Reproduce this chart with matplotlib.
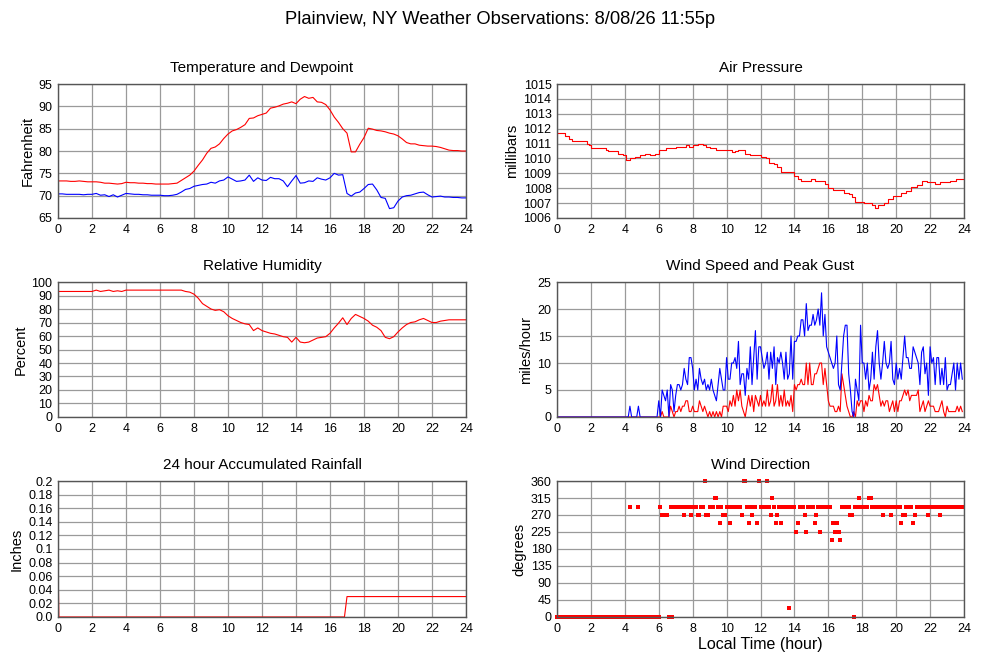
import numpy as np
import matplotlib
matplotlib.use("Agg")
import matplotlib.pyplot as plt

plt.rcParams['font.family'] = ['Liberation Sans', 'DejaVu Sans']

# temperature / dewpoint / humidity, one row per hour, 15 min steps (ends at 24:00)
temp_f = [73.3, 73.3, 73.3, 73.2,
          73.2, 73.3, 73.2, 73.1,
          73.1, 73.1, 73.0, 72.8,
          72.8, 72.7, 72.6, 72.7,
          73.0, 72.9, 72.9, 72.8,
          72.8, 72.7, 72.7, 72.6,
          72.6, 72.6, 72.6, 72.7,
          72.8, 73.4, 74.0, 74.6,
          75.5, 76.8, 78.0, 79.5,
          80.6, 80.9, 81.6, 82.8,
          83.8, 84.5, 84.8, 85.3,
          85.9, 87.3, 87.4, 87.9,
          88.2, 88.5, 89.6, 89.8,
          90.1, 90.5, 90.7, 91.0,
          90.6, 91.6, 92.2, 91.8,
          92.0, 91.0, 90.9, 90.4,
          89.2, 87.6, 86.4, 85.0,
          84.0, 79.8, 79.8, 81.5,
          83.0, 85.1, 84.9, 84.6,
          84.5, 84.3, 84.0, 83.8,
          83.4, 82.7, 81.9, 81.6,
          81.6, 81.3, 81.2, 81.1,
          81.1, 81.0, 80.8, 80.5,
          80.2, 80.1, 80.1, 80.0,
          80.0]

dew_f = [70.4, 70.4, 70.3, 70.3,
         70.3, 70.3, 70.2, 70.3,
         70.3, 70.5, 70.1, 70.2,
         69.8, 70.2, 69.7, 70.1,
         70.5, 70.4, 70.3, 70.3,
         70.2, 70.2, 70.1, 70.1,
         70.1, 70.0, 70.0, 70.1,
         70.3, 70.8, 71.4, 71.6,
         72.1, 72.3, 72.5, 72.6,
         73.0, 72.8, 73.3, 73.5,
         74.2, 73.7, 73.2, 73.3,
         73.5, 74.6, 73.2, 74.0,
         73.5, 73.4, 74.1, 73.8,
         73.8, 73.3, 72.0, 73.3,
         74.5, 72.8, 72.9, 73.3,
         73.2, 74.0, 73.7, 73.5,
         74.0, 75.0, 74.6, 74.7,
         70.5, 69.9, 70.6, 70.8,
         71.6, 72.5, 72.6, 71.3,
         69.6, 69.4, 67.1, 67.3,
         68.8, 69.7, 70.0, 70.1,
         70.4, 70.7, 70.8, 70.2,
         69.7, 69.8, 69.9, 69.7,
         69.7, 69.6, 69.6, 69.5,
         69.5]

humidity = [93, 93, 93, 93,
            93, 93, 93, 93,
            93, 94, 93, 93.5,
            94, 93, 93.5, 93,
            94, 94, 94, 94,
            94, 94, 94, 94,
            94, 94, 94, 94,
            94, 94, 93, 92.5,
            91, 88, 84, 82,
            80, 79, 79.5, 78,
            75, 73, 71.5, 70,
            69, 68.5, 64, 66,
            64, 63, 62, 61.5,
            60.5, 59.5, 59, 55.5,
            59, 55.5, 55, 55.5,
            57, 58.5, 59, 59.5,
            62, 66, 69.5, 73.5,
            68.5, 73, 76, 74.5,
            73, 71, 68, 66.5,
            64, 59, 58, 59.5,
            63, 66, 68.5, 70,
            70.5, 72, 73, 71.5,
            70, 70, 71, 71.5,
            72, 72, 72, 72,
            72]

# air pressure changes (hour, mb)
press_hours = [0, 0.5, 0.7, 0.9, 1.75, 1.9, 2.0, 2.7, 2.9, 3.0, 3.5, 3.6, 3.9,
               4.05, 4.3, 4.6, 4.9, 5.2, 5.5, 5.8, 6.0, 6.4, 7.0, 7.6, 7.8,
               8.0, 8.3, 8.6, 8.8, 9.0, 9.4, 9.8, 10.3, 10.5, 10.7, 11.1,
               11.4, 12.0, 12.3, 12.5, 12.8, 13.0, 13.2, 14.0, 14.2, 14.4,
               15.0, 15.2, 15.8, 16.0, 16.3, 16.9, 17.2, 17.4, 17.6, 18.1,
               18.6, 18.75, 18.95, 19.3, 19.5, 19.8, 20.3, 20.6, 20.9, 21.2,
               21.5, 21.8, 22.3, 22.6, 23.2, 23.5, 24]
press_mb = [1011.7, 1011.5, 1011.3, 1011.2, 1011.0, 1010.9, 1010.7, 1010.7,
            1010.6, 1010.5, 1010.5, 1010.3, 1010.2, 1009.9, 1010.0, 1010.1,
            1010.2, 1010.3, 1010.2, 1010.3, 1010.6, 1010.7, 1010.8, 1010.9,
            1010.8, 1010.9, 1011.0, 1010.9, 1010.8, 1010.7, 1010.6, 1010.6,
            1010.4, 1010.5, 1010.6, 1010.3, 1010.2, 1010.1, 1010.0, 1009.7,
            1009.6, 1009.4, 1009.1, 1008.8, 1008.6, 1008.5, 1008.6, 1008.5,
            1008.3, 1008.0, 1007.9, 1007.7, 1007.6, 1007.4, 1007.1, 1007.0,
            1006.9, 1006.7, 1006.9, 1007.0, 1007.3, 1007.5, 1007.7, 1007.8,
            1008.1, 1008.2, 1008.5, 1008.4, 1008.3, 1008.4, 1008.5, 1008.6,
            1008.6]

# wind, one row per hour, 6 min steps
gust_mph = [0, 0, 0, 0, 0, 0, 0, 0, 0, 0,
            0, 0, 0, 0, 0, 0, 0, 0, 0, 0,
            0, 0, 0, 0, 0, 0, 0, 0, 0, 0,
            0, 0, 0, 0, 0, 0, 0, 0, 0, 0,
            0, 0, 0, 2, 0, 0, 0, 0, 2, 0,
            0, 0, 0, 0, 0, 0, 0, 0, 0, 0,
            3, 0, 5, 4, 3, 5, 0, 6, 5, 1,
            4, 6, 6, 5, 6, 9, 7, 6, 11, 11,
            9, 5, 7, 5, 9, 7, 6, 7, 5, 6,
            5, 7, 5, 4, 3, 6, 9, 7, 5, 5,
            11, 7, 7, 10, 10, 11, 9, 14, 6, 8,
            8, 4, 9, 7, 13, 6, 11, 16, 7, 13,
            13, 11, 9, 10, 12, 7, 12, 9, 13, 6,
            11, 10, 12, 10, 7, 12, 7, 8, 15, 7,
            14, 14, 15, 15, 18, 18, 15, 21, 16, 17,
            17, 19, 17, 18, 20, 17, 23, 15, 19, 13,
            12, 11, 10, 9, 10, 15, 6, 5, 10, 15,
            17, 17, 8, 5, 1, 0, 7, 5, 3, 17,
            10, 10, 7, 10, 5, 7, 12, 7, 13, 16,
            10, 7, 10, 14, 10, 9, 10, 14, 7, 6,
            10, 7, 9, 7, 11, 15, 11, 11, 9, 9,
            13, 12, 11, 10, 6, 12, 13, 8, 10, 4,
            13, 10, 11, 6, 11, 11, 6, 9, 6, 11,
            5, 6, 6, 8, 10, 5, 10, 7, 10, 7]

speed_mph = [0, 0, 0, 0, 0, 0, 0, 0, 0, 0,
             0, 0, 0, 0, 0, 0, 0, 0, 0, 0,
             0, 0, 0, 0, 0, 0, 0, 0, 0, 0,
             0, 0, 0, 0, 0, 0, 0, 0, 0, 0,
             0, 0, 0, 0, 0, 0, 0, 0, 0, 0,
             0, 0, 0, 0, 0, 0, 0, 0, 0, 0,
             0, 0, 1, 0, 0, 0, 0, 2, 1, 0,
             1, 1, 2, 1, 2, 2, 3, 3, 1, 1,
             2, 1, 1, 1, 3, 2, 1, 2, 1, 0,
             1, 0, 1, 0, 1, 0, 1, 0, 2, 2,
             2, 1, 3, 2, 4, 2, 5, 3, 5, 2,
             1, 0, 2, 4, 2, 4, 1, 4, 3, 2,
             4, 2, 3, 2, 5, 2, 3, 6, 2, 3,
             6, 2, 4, 2, 5, 2, 3, 2, 4, 1,
             6, 5, 6, 6, 7, 6, 6, 10, 6, 10,
             6, 6, 8, 8, 9, 10, 10, 6, 9, 6,
             3, 2, 2, 2, 1, 1, 2, 1, 8, 6,
             4, 2, 1, 0, 0, 1, 0, 3, 2, 3,
             3, 1, 3, 2, 4, 3, 3, 6, 5, 6,
             4, 2, 3, 2, 3, 3, 1, 2, 3, 1,
             3, 1, 3, 3, 4, 5, 4, 5, 3, 4,
             4, 4, 4, 5, 1, 2, 3, 1, 2, 3,
             2, 2, 2, 1, 1, 1, 2, 3, 1, 0,
             2, 1, 1, 1, 1, 1, 2, 1, 2, 1]

wind_dir = [0, 0, 0, 0, 0, 0, 0, 0, 0, 0,
            0, 0, 0, 0, 0, 0, 0, 0, 0, 0,
            0, 0, 0, 0, 0, 0, 0, 0, 0, 0,
            0, 0, 0, 0, 0, 0, 0, 0, 0, 0,
            0, 0, 0, 292.5, 0, 0, 0, 0, 292.5, 0,
            0, 0, 0, 0, 0, 0, 0, 0, 0, 0,
            0, 292.5, 270, 270, 270, 270, 0, 292.5, 0, 292.5,
            292.5, 292.5, 292.5, 292.5, 292.5, 270, 292.5, 292.5, 292.5, 270,
            292.5, 292.5, 292.5, 270, 270, 292.5, 292.5, 360, 270, 270,
            292.5, 292.5, 292.5, 315, 315, 292.5, 247.5, 292.5, 270, 270,
            292.5, 292.5, 247.5, 292.5, 292.5, 292.5, 292.5, 292.5, 292.5, 270,
            360, 360, 292.5, 247.5, 292.5, 270, 292.5, 292.5, 247.5, 360,
            292.5, 292.5, 292.5, 292.5, 360, 292.5, 270, 315, 292.5, 247.5,
            270, 292.5, 247.5, 292.5, 292.5, 292.5, 292.5, 22.5, 292.5, 292.5,
            292.5, 225, 247.5, 292.5, 292.5, 292.5, 270, 225, 292.5, 292.5,
            292.5, 292.5, 247.5, 270, 292.5, 225, 292.5, 292.5, 292.5, 292.5,
            292.5, 292.5, 202.5, 247.5, 225, 247.5, 225, 202.5, 292.5, 292.5,
            292.5, 292.5, 292.5, 270, 270, 0, 292.5, 292.5, 315, 292.5,
            292.5, 292.5, 292.5, 292.5, 315, 315, 292.5, 292.5, 292.5, 292.5,
            292.5, 292.5, 270, 292.5, 292.5, 292.5, 292.5, 270, 292.5, 292.5,
            292.5, 292.5, 292.5, 247.5, 270, 270, 292.5, 292.5, 292.5, 292.5,
            247.5, 270, 292.5, 292.5, 292.5, 292.5, 292.5, 292.5, 292.5, 270,
            292.5, 292.5, 292.5, 292.5, 292.5, 292.5, 270, 292.5, 292.5, 292.5,
            292.5, 292.5, 292.5, 292.5, 292.5, 292.5, 292.5, 292.5, 292.5, 292.5]

rain_hours = [0, 0.05, 16.85, 17.0, 24]
rain_in = [0.085, 0.0, 0.0, 0.03, 0.03]

rain_ticks = [0, 0.02, 0.04, 0.06, 0.08, 0.1, 0.12, 0.14, 0.16, 0.18, 0.2]
rain_labels = ["0.0", "0.02", "0.04", "0.06", "0.08", "0.1", "0.12", "0.14",
               "0.16", "0.18", "0.2"]

t15 = np.arange(len(temp_f)) * 0.25
t6 = np.arange(len(gust_mph)) * 0.1

RED = '#ff0000'
BLUE = '#0000ff'

fig = plt.figure(figsize=(10, 6.6), dpi=100)
fig.text(0.5, 1 - 20 / 660, "Plainview, NY Weather Observations: 8/08/26 11:55p",
         ha='center', va='center', fontsize=13.2)

lefts = [0.058, 0.557]
widths = [0.408, 0.407]
rows = [(0.6697, 0.203), (0.3682, 0.2045), (0.0652, 0.206)]


def make_ax(col, row, title, ylabel):
    b, h = rows[row]
    ax = fig.add_axes([lefts[col], b, widths[col], h])
    ax.set_title(title, fontsize=11, pad=9)
    ax.set_ylabel(ylabel, fontsize=10.5, labelpad=3)
    ax.set_xlim(0, 24)
    ax.set_xticks(range(0, 25, 2))
    ax.grid(True, color='#9a9a9a', linewidth=0.9)
    ax.set_axisbelow(True)
    ax.tick_params(length=0, labelsize=9, pad=4)
    for s in ax.spines.values():
        s.set_color('#555555')
        s.set_linewidth(1.0)
    return ax


ax = make_ax(0, 0, "Temperature and Dewpoint", "Fahrenheit")
ax.plot(t15, temp_f, color=RED, lw=0.8)
ax.plot(t15, dew_f, color=BLUE, lw=0.8)
ax.set_ylim(65, 95)
ax.set_yticks(range(65, 96, 5))

ax = make_ax(1, 0, "Air Pressure", "millibars")
ax.plot(press_hours, press_mb, color=RED, lw=0.8, drawstyle='steps-post')
ax.set_ylim(1006, 1015)
ax.set_yticks(range(1006, 1016))

ax = make_ax(0, 1, "Relative Humidity", "Percent")
ax.plot(t15, humidity, color=RED, lw=0.8)
ax.set_ylim(0, 100)
ax.set_yticks(range(0, 101, 10))

ax = make_ax(1, 1, "Wind Speed and Peak Gust", "miles/hour")
ax.plot(t6, speed_mph, color=RED, lw=0.8)
ax.plot(t6, gust_mph, color=BLUE, lw=0.8)
ax.set_ylim(0, 25)
ax.set_yticks(range(0, 26, 5))

ax = make_ax(0, 2, "24 hour Accumulated Rainfall", "Inches")
ax.plot(rain_hours, rain_in, color=RED, lw=0.8)
ax.set_ylim(0, 0.2)
ax.set_yticks(rain_ticks)
ax.set_yticklabels(rain_labels)

ax = make_ax(1, 2, "Wind Direction", "degrees")
ax.plot(t6, wind_dir, 's', color=RED, markersize=2.2, markeredgewidth=0,
        antialiased=False, clip_on=False)
ax.set_ylim(0, 360)
ax.set_yticks(range(0, 361, 45))
ax.set_xlabel("Local Time (hour)", fontsize=11.5, labelpad=2)

fig.savefig("out.png", dpi=100)
